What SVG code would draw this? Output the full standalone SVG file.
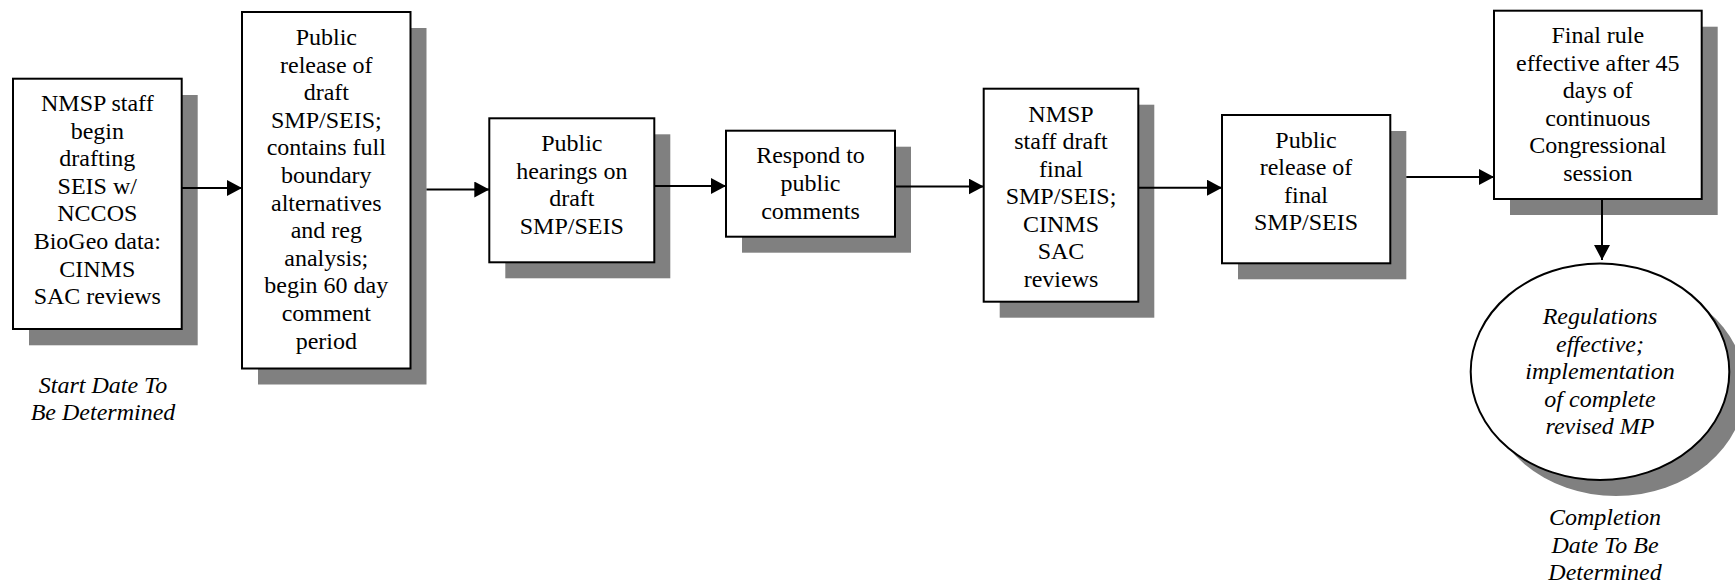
<svg xmlns="http://www.w3.org/2000/svg" width="1735" height="584" viewBox="0 0 1735 584">
<style>
.box{fill:#fff;stroke:#000;stroke-width:2}
.sh{fill:#808080}
.t{font-family:"Liberation Serif","Times New Roman",serif;font-size:24px;fill:#000;text-anchor:middle}
.i{font-style:italic}
.ln{stroke:#000;stroke-width:2;fill:none}
</style>
<defs>
<marker id="ah" markerUnits="userSpaceOnUse" markerWidth="16" markerHeight="16" refX="15" refY="8" orient="auto">
<path d="M0,0 L15,8 L0,16 z" fill="#000"/>
</marker>
</defs>
<rect width="1735" height="584" fill="#fff"/>

<g id="n1">
<rect class="sh" x="29" y="95" width="168.7" height="250.3"/>
<rect class="box" x="13" y="78.7" width="168.7" height="250.3"/>
<text class="t"><tspan x="97.3" y="111">NMSP staff</tspan><tspan x="97.3" y="138.6">begin</tspan><tspan x="97.3" y="166.2">drafting</tspan><tspan x="97.3" y="193.8">SEIS w/</tspan><tspan x="97.3" y="221.4">NCCOS</tspan><tspan x="97.3" y="249">BioGeo data:</tspan><tspan x="97.3" y="276.6">CINMS</tspan><tspan x="97.3" y="304.2">SAC reviews</tspan></text>
</g>

<g id="start">
<text class="t i"><tspan x="103" y="392.5">Start Date To</tspan><tspan x="103" y="420">Be Determined</tspan></text>
</g>

<g id="n2">
<rect class="sh" x="258" y="28" width="168.5" height="356.5"/>
<rect class="box" x="242" y="12" width="168.5" height="356.5"/>
<text class="t"><tspan x="326.3" y="45">Public</tspan><tspan x="326.3" y="72.6">release of</tspan><tspan x="326.3" y="100.2">draft</tspan><tspan x="326.3" y="127.8">SMP/SEIS;</tspan><tspan x="326.3" y="155.4">contains full</tspan><tspan x="326.3" y="183">boundary</tspan><tspan x="326.3" y="210.6">alternatives</tspan><tspan x="326.3" y="238.2">and reg</tspan><tspan x="326.3" y="265.8">analysis;</tspan><tspan x="326.3" y="293.4">begin 60 day</tspan><tspan x="326.3" y="321">comment</tspan><tspan x="326.3" y="348.6">period</tspan></text>
</g>

<g id="n3">
<rect class="sh" x="505.3" y="134.3" width="165" height="144"/>
<rect class="box" x="489.3" y="118.3" width="165" height="144"/>
<text class="t"><tspan x="571.8" y="151">Public</tspan><tspan x="571.8" y="178.6">hearings on</tspan><tspan x="571.8" y="206.2">draft</tspan><tspan x="571.8" y="233.8">SMP/SEIS</tspan></text>
</g>

<g id="n4">
<rect class="sh" x="742" y="146.7" width="169" height="106"/>
<rect class="box" x="726" y="130.7" width="169" height="106"/>
<text class="t"><tspan x="810.5" y="163.3">Respond to</tspan><tspan x="810.5" y="190.9">public</tspan><tspan x="810.5" y="218.5">comments</tspan></text>
</g>

<g id="n5">
<rect class="sh" x="999.7" y="104.7" width="154.6" height="213"/>
<rect class="box" x="983.7" y="88.7" width="154.6" height="213"/>
<text class="t"><tspan x="1061" y="121.7">NMSP</tspan><tspan x="1061" y="149.2">staff draft</tspan><tspan x="1061" y="176.7">final</tspan><tspan x="1061" y="204.2">SMP/SEIS;</tspan><tspan x="1061" y="231.7">CINMS</tspan><tspan x="1061" y="259.2">SAC</tspan><tspan x="1061" y="286.7">reviews</tspan></text>
</g>

<g id="n6">
<rect class="sh" x="1238" y="131" width="168.3" height="148.3"/>
<rect class="box" x="1222" y="115" width="168.3" height="148.3"/>
<text class="t"><tspan x="1306" y="147.7">Public</tspan><tspan x="1306" y="175.2">release of</tspan><tspan x="1306" y="202.7">final</tspan><tspan x="1306" y="230.2">SMP/SEIS</tspan></text>
</g>

<g id="n7">
<rect class="sh" x="1510" y="26.7" width="207.7" height="188.3"/>
<rect class="box" x="1494" y="10.7" width="207.7" height="188.3"/>
<text class="t"><tspan x="1597.8" y="43.3">Final rule</tspan><tspan x="1597.8" y="70.8">effective after 45</tspan><tspan x="1597.8" y="98.3">days of</tspan><tspan x="1597.8" y="125.8">continuous</tspan><tspan x="1597.8" y="153.3">Congressional</tspan><tspan x="1597.8" y="180.8">session</tspan></text>
</g>

<g id="n8">
<ellipse class="sh" cx="1616" cy="387.7" rx="129.3" ry="108.3"/>
<ellipse class="box" cx="1600" cy="371.7" rx="129.3" ry="108.3"/>
<text class="t i"><tspan x="1600" y="324">Regulations</tspan><tspan x="1600" y="351.5">effective;</tspan><tspan x="1600" y="379">implementation</tspan><tspan x="1600" y="406.5">of complete</tspan><tspan x="1600" y="434">revised MP</tspan></text>
</g>

<g id="completion">
<text class="t i"><tspan x="1605" y="525">Completion</tspan><tspan x="1605" y="552.5">Date To Be</tspan><tspan x="1605" y="580">Determined</tspan></text>
</g>

<g id="connectors">
<line class="ln" x1="182" y1="188" x2="242" y2="188" marker-end="url(#ah)"/>
<line class="ln" x1="426.5" y1="189.5" x2="489.3" y2="189.5" marker-end="url(#ah)"/>
<line class="ln" x1="654.3" y1="186" x2="726" y2="186" marker-end="url(#ah)"/>
<line class="ln" x1="895" y1="186.5" x2="983.7" y2="186.5" marker-end="url(#ah)"/>
<line class="ln" x1="1138.3" y1="187.7" x2="1222" y2="187.7" marker-end="url(#ah)"/>
<line class="ln" x1="1406.3" y1="177" x2="1494" y2="177" marker-end="url(#ah)"/>
<line class="ln" x1="1602" y1="199" x2="1602" y2="260" marker-end="url(#ah)"/>
</g>
</svg>
